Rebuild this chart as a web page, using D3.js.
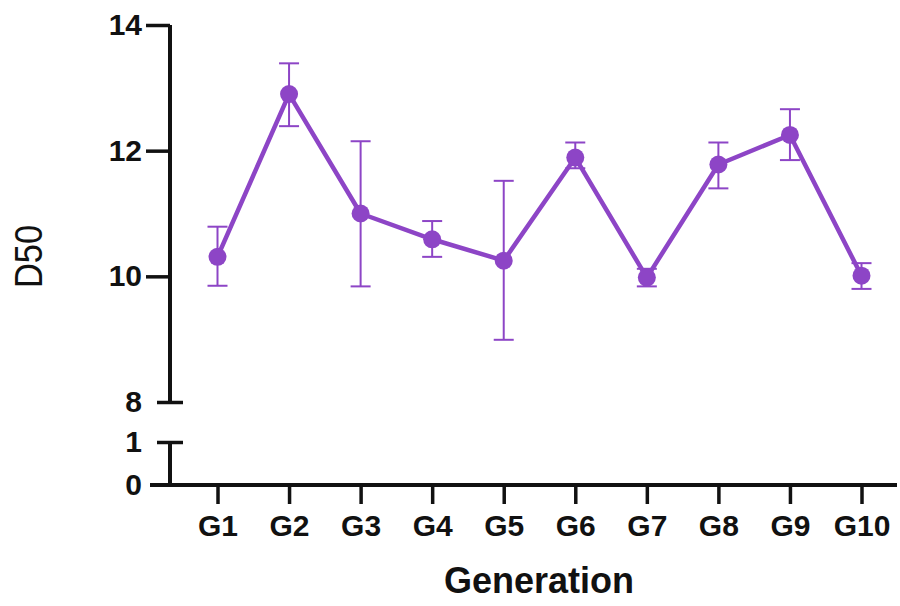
<!DOCTYPE html>
<html>
<head>
<meta charset="utf-8">
<script src="https://cdn.jsdelivr.net/npm/d3@7/dist/d3.min.js"></script>
<style>
  html, body { margin: 0; padding: 0; background: #fff; }
  svg { display: block; }
  text { font-family: "Liberation Sans", Arial, sans-serif; }
</style>
</head>
<body>
<svg id="chart" width="900" height="606"></svg>
<script>
const categories = ["G1","G2","G3","G4","G5","G6","G7","G8","G9","G10"];
const means =  [10.31, 12.90, 11.00, 10.59, 10.25, 11.89, 9.98, 11.78, 12.25, 10.01];
const upperErr = [10.79, 13.39, 12.15, 10.88, 11.52, 12.13, 10.12, 12.13, 12.66, 10.21];
const lowerErr = [9.85, 12.39, 9.84, 10.31, 8.99, 11.72, 9.84, 11.40, 11.85, 9.80];
const upperTicks = [8, 10, 12, 14];
const lowerTicks = [0, 1];
const xTitle = "Generation";
const yTitle = "D50";

const color = "#8D45C6";
const svg = d3.select("#chart");

const axisX = 170;
const x = d3.scalePoint().domain(categories).range([217.5, 861.5]);
const yUp = d3.scaleLinear().domain([8, 14]).range([402, 25]);
const yLo = d3.scaleLinear().domain([0, 1]).range([485, 442]);

const data = categories.map((c, i) => ({c, m: means[i], hi: upperErr[i], lo: lowerErr[i]}));

function styleAxis(g) {
  g.selectAll(".domain").attr("stroke", "#111").attr("stroke-width", 4);
  g.selectAll(".tick line").attr("stroke", "#111").attr("stroke-width", 3.5);
  g.selectAll(".tick text").attr("fill", "#111").style("font-size", "30px").style("font-weight", "bold");
}

// Upper y axis
const gUp = svg.append("g").attr("transform", `translate(${axisX},0)`)
  .call(d3.axisLeft(yUp).tickValues(upperTicks).tickSize(24).tickSizeOuter(0).tickPadding(4).tickFormat(d3.format("d")));
styleAxis(gUp);
gUp.selectAll(".tick").filter(d => d === 8).select("line").attr("x1", -13).attr("x2", 13);
gUp.select(".domain").attr("d", `M0,${yUp(8)}V${yUp(14)}`);

// Lower y axis
const gLo = svg.append("g").attr("transform", `translate(${axisX},0)`)
  .call(d3.axisLeft(yLo).tickValues(lowerTicks).tickSize(24).tickSizeOuter(0).tickPadding(4).tickFormat(d3.format("d")));
styleAxis(gLo);
gLo.selectAll(".tick").filter(d => d === 1).select("line").attr("x1", -13).attr("x2", 13);
gLo.selectAll(".tick").filter(d => d === 0).select("line").remove();
gLo.select(".domain").attr("d", `M0,${yLo(1)}V${yLo(0)}`);

// X axis
const gX = svg.append("g").attr("transform", `translate(0,${yLo(0)})`)
  .call(d3.axisBottom(x).tickSize(19).tickPadding(11));
styleAxis(gX);
gX.select(".domain").attr("d", `M150,0H897`);

// Error bars
const eb = svg.append("g").attr("stroke", color).attr("stroke-width", 2).attr("fill", "none");
data.forEach(d => {
  const cx = x(d.c);
  eb.append("line").attr("x1", cx).attr("x2", cx).attr("y1", yUp(d.hi)).attr("y2", yUp(d.lo));
  eb.append("line").attr("x1", cx - 10).attr("x2", cx + 10).attr("y1", yUp(d.hi)).attr("y2", yUp(d.hi));
  eb.append("line").attr("x1", cx - 10).attr("x2", cx + 10).attr("y1", yUp(d.lo)).attr("y2", yUp(d.lo));
});

// Line
const line = d3.line().x(d => x(d.c)).y(d => yUp(d.m));
svg.append("path").datum(data).attr("d", line)
  .attr("fill", "none").attr("stroke", color).attr("stroke-width", 4.5).attr("stroke-linejoin", "round");

// Points
svg.append("g").selectAll("circle").data(data).join("circle")
  .attr("cx", d => x(d.c)).attr("cy", d => yUp(d.m)).attr("r", 9).attr("fill", color);

// Titles
svg.append("text").attr("x", 539).attr("y", 593).attr("text-anchor", "middle")
  .style("font-size", "36px").style("font-weight", "bold").attr("fill", "#111").text(xTitle);
svg.append("text").attr("transform", "translate(42,256.5) rotate(-90)").attr("text-anchor", "middle")
  .attr("textLength", 63).attr("lengthAdjust", "spacingAndGlyphs")
  .style("font-size", "38px").attr("fill", "#111").text(yTitle);
</script>
</body>
</html>
